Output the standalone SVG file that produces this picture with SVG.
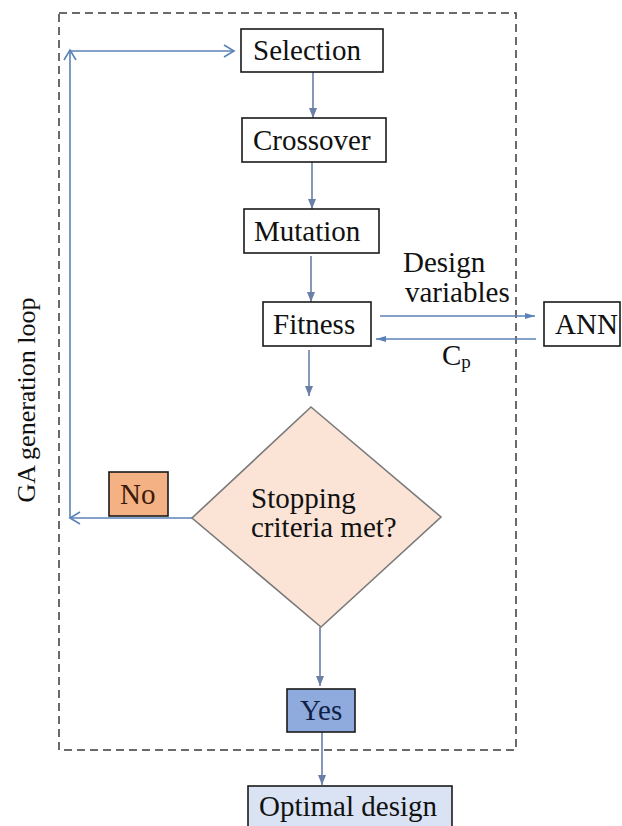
<svg xmlns="http://www.w3.org/2000/svg" width="622" height="826" viewBox="0 0 622 826">
<style>
.box{stroke:#1a1a1a;stroke-width:1.6;fill:#ffffff}
text{font-family:"Liberation Serif","Times New Roman",Times,serif;font-size:29px;fill:#111}
.c{stroke:#6a7fa6;stroke-width:1.6;fill:none}
.b{stroke:#5b82b8;stroke-width:1.6;fill:none}
</style>
<defs>
<marker id="tri" markerUnits="userSpaceOnUse" markerWidth="10" markerHeight="10" viewBox="0 0 10 10" refX="10" refY="5" orient="auto">
<path d="M0,1 L10,5 L0,9 z" fill="#6a7fa6"/>
</marker>
<marker id="triB" markerUnits="userSpaceOnUse" markerWidth="10" markerHeight="8" viewBox="0 0 10 8" refX="10" refY="4" orient="auto">
<path d="M0,1 L10,4 L0,7 z" fill="#5b82b8"/>
</marker>
<marker id="vee" markerUnits="userSpaceOnUse" markerWidth="14" markerHeight="14" viewBox="0 0 14 14" refX="12" refY="7" orient="auto">
<path d="M2,1 L12,7 L2,13" fill="none" stroke="#5b82b8" stroke-width="1.6"/>
</marker>
</defs>
<rect width="622" height="826" fill="#ffffff"/>
<rect id="frame" x="59" y="13" width="457" height="737" fill="none" stroke="#3a3a3a" stroke-width="1.5" stroke-dasharray="8 5"/>
<text font-family="Liberation Serif, serif" transform="translate(35,400) rotate(-90)" text-anchor="middle" style="font-size:26px">GA generation loop</text>
<g id="connectors">
<line class="c" x1="313" y1="72" x2="313" y2="118" marker-end="url(#tri)"/>
<line class="c" x1="312" y1="162" x2="312" y2="209" marker-end="url(#tri)"/>
<line class="c" x1="311" y1="256" x2="311" y2="302" marker-end="url(#tri)"/>
<line class="c" x1="309" y1="350" x2="309" y2="396" marker-end="url(#tri)"/>
<line class="c" x1="320" y1="627" x2="320" y2="686" marker-end="url(#tri)"/>
<line class="c" x1="322" y1="732" x2="322" y2="785" marker-end="url(#tri)"/>
<line class="b" x1="380" y1="316" x2="535" y2="316" marker-end="url(#triB)"/>
<line class="b" x1="536" y1="339" x2="376" y2="339" marker-end="url(#triB)"/>
<line class="b" x1="192" y1="518" x2="70" y2="518" marker-end="url(#vee)"/>
<line class="b" x1="70" y1="518" x2="70" y2="50" marker-end="url(#vee)"/>
<line class="b" x1="70" y1="51" x2="234" y2="51" marker-end="url(#vee)"/>
</g>
<g id="selection"><rect class="box" x="241" y="29" width="142" height="43"/><text x="253" y="60">Selection</text></g>
<g id="crossover"><rect class="box" x="242" y="118" width="144" height="44"/><text x="253" y="150">Crossover</text></g>
<g id="mutation"><rect class="box" x="244" y="209" width="135" height="44"/><text x="254" y="241">Mutation</text></g>
<g id="fitness"><rect class="box" x="263" y="302" width="108" height="44"/><text x="273" y="334">Fitness</text></g>
<g id="ann"><rect class="box" x="544" y="302" width="76" height="44"/><text x="555" y="334">ANN</text></g>
<g id="design-label"><text x="403" y="272">Design</text><text x="405" y="302">variables</text></g>
<g id="cp-label"><text x="442" y="365">C<tspan style="font-size:19px" dy="3">p</tspan></text></g>
<g id="decision"><polygon points="311,407 441,517 321,627 192,518" fill="#fbe3d6" stroke="#7a7a7a" stroke-width="1.6"/><text x="251" y="508">Stopping</text><text x="251" y="537">criteria met?</text></g>
<g id="no"><rect class="box" x="109" y="472" width="59" height="44" style="fill:#f4b183"/><text x="120" y="504" style="fill:#3a1a0a">No</text></g>
<g id="yes"><rect class="box" x="287" y="689" width="68" height="43" style="fill:#8faadc"/><text x="300" y="720" style="fill:#0f1f45">Yes</text></g>
<g id="optimal"><rect class="box" x="248" y="786" width="204" height="46" style="fill:#dae3f3"/><text x="259" y="816">Optimal design</text></g>
</svg>
